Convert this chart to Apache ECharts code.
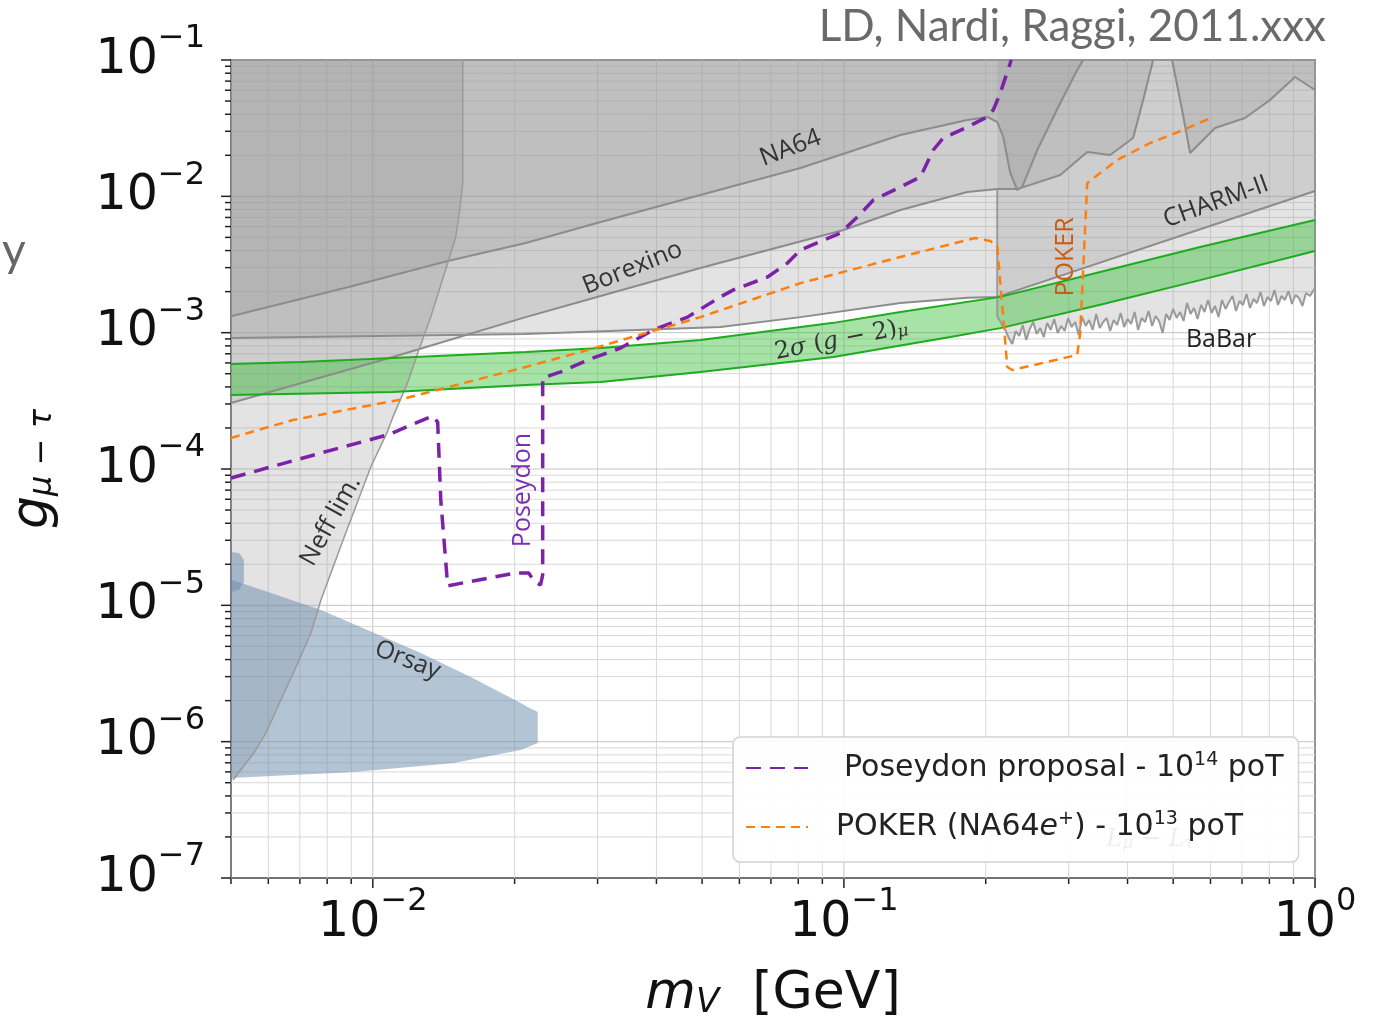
<!DOCTYPE html>
<html>
<head>
<meta charset="utf-8">
<title>g mu-tau limits</title>
<script src="https://cdn.jsdelivr.net/npm/echarts@6/dist/echarts.min.js"></script>
<style>
  html, body { margin: 0; padding: 0; background: #fff; }
  #main { width: 1388px; height: 1026px; }
</style>
</head>
<body>
<div id="main"></div>
<script>
// axis range (m_V in GeV, coupling g)
var xMin = 0.005, xMax = 1, yMin = 1e-7, yMax = 1e-1;

var xMajor = [0.01, 0.1, 1];
var xMinor = [0.005, 0.006, 0.007, 0.008, 0.009,
    0.02, 0.03, 0.04, 0.05, 0.06, 0.07, 0.08, 0.09,
    0.2, 0.3, 0.4, 0.5, 0.6, 0.7, 0.8, 0.9];
var yMajor = [1e-7, 1e-6, 1e-5, 1e-4, 1e-3, 1e-2, 1e-1];
var yMinor = [2e-7, 3e-7, 4e-7, 5e-7, 6e-7, 7e-7, 8e-7, 9e-7,
    2e-6, 3e-6, 4e-6, 5e-6, 6e-6, 7e-6, 8e-6, 9e-6,
    2e-5, 3e-5, 4e-5, 5e-5, 6e-5, 7e-5, 8e-5, 9e-5,
    2e-4, 3e-4, 4e-4, 5e-4, 6e-4, 7e-4, 8e-4, 9e-4,
    2e-3, 3e-3, 4e-3, 5e-3, 6e-3, 7e-3, 8e-3, 9e-3,
    2e-2, 3e-2, 4e-2, 5e-2, 6e-2, 7e-2, 8e-2, 9e-2];

// excluded regions (boundaries, region lies above)
var na64Bound = [
    [0.005, 0.00132], [0.00889, 0.00216], [0.01442, 0.00335], [0.02111, 0.00455],
    [0.03045, 0.00648], [0.0496, 0.01023], [0.0809, 0.01614], [0.1318, 0.02818],
    [0.1828, 0.0363], [0.2015, 0.0382], [0.2116, 0.0351], [0.2179, 0.02724],
    [0.2255, 0.01483], [0.2334, 0.01113], [0.2391, 0.01171], [0.2573, 0.02187],
    [0.2879, 0.04836], [0.3128, 0.08445], [0.3221, 0.1]
];
var borexinoBound = [
    [0.005, 0.000305], [0.01103, 0.000663], [0.02111, 0.0013], [0.03045, 0.00186],
    [0.0496, 0.00298], [0.0998, 0.00566], [0.1318, 0.00794], [0.1828, 0.01076],
    [0.2116, 0.0113], [0.2334, 0.0113], [0.2879, 0.01434], [0.3285, 0.02114],
    [0.3675, 0.0201], [0.4111, 0.02678], [0.4317, 0.05087], [0.4533, 0.1]
];
var charmBound = [
    [0.005, 0.000914], [0.02111, 0.000978], [0.0547, 0.0011], [0.0809, 0.0013],
    [0.1318, 0.00165], [0.1828, 0.0018], [0.2116, 0.00183], [1, 0.01094]
];
var babarBound = [
    [0.2116, 0.0113], [0.2116, 0.00132], [0.2179, 0.0011],
    [0.2201, 0.001046], [0.2239, 0.000914], [0.2277, 0.000826], [0.2317, 0.001028],
    [0.2356, 0.000945], [0.2397, 0.001138], [0.2438, 0.000884], [0.2480, 0.001064],
    [0.2523, 0.001197], [0.2566, 0.000978], [0.2611, 0.001082], [0.2656, 0.000929],
    [0.2701, 0.001177], [0.2748, 0.001046], [0.2795, 0.00126], [0.2843, 0.000994],
    [0.2893, 0.001119], [0.2942, 0.001028], [0.2993, 0.001281], [0.3044, 0.0011],
    [0.3097, 0.001197], [0.3150, 0.000961], [0.3205, 0.001303], [0.3260, 0.001119],
    [0.3316, 0.001238], [0.3373, 0.001046], [0.3432, 0.00137], [0.3491, 0.001082],
    [0.3551, 0.001197], [0.3612, 0.001281], [0.3674, 0.001028], [0.3738, 0.001238],
    [0.3802, 0.001138], [0.3868, 0.001394], [0.3934, 0.0011], [0.4002, 0.00126],
    [0.4071, 0.001158], [0.4141, 0.001418], [0.4213, 0.001046], [0.4285, 0.001281],
    [0.4359, 0.001197], [0.4434, 0.001442], [0.4511, 0.001119], [0.4588, 0.001325],
    [0.4667, 0.001218], [0.4748, 0.000994], [0.4830, 0.00137], [0.4913, 0.001238],
    [0.4998, 0.001492], [0.5084, 0.001281], [0.5171, 0.001418], [0.5260, 0.001218],
    [0.5351, 0.001651], [0.5443, 0.00137], [0.5537, 0.001517], [0.5633, 0.00126],
    [0.5730, 0.001596], [0.5828, 0.001418], [0.5929, 0.001736], [0.6031, 0.001394],
    [0.6135, 0.001569], [0.6241, 0.001303], [0.6348, 0.001736], [0.6458, 0.001492],
    [0.6569, 0.001679], [0.6682, 0.001857], [0.6798, 0.001442], [0.6915, 0.001707],
    [0.7034, 0.001596], [0.7155, 0.001921], [0.7279, 0.001517], [0.7404, 0.001766],
    [0.7532, 0.001651], [0.7661, 0.001988], [0.7793, 0.001569], [0.7928, 0.001826],
    [0.8064, 0.001707], [0.8203, 0.002056], [0.8345, 0.001596], [0.8488, 0.001857],
    [0.8635, 0.001736], [0.8783, 0.002021], [0.8935, 0.001623], [0.9089, 0.001889],
    [0.9246, 0.001796], [0.9404, 0.001569], [0.9570, 0.001954], [0.9759, 0.001857],
    [1, 0.002126]
];
var topRightBound = [
    [0.4974, 0.1], [0.5223, 0.04297], [0.5431, 0.02079], [0.6135, 0.03171],
    [0.7103, 0.03755], [0.8026, 0.05087], [0.9070, 0.07502], [1, 0.06025]
];
// Neff limit, region lies to the left
var neffBound = [
    [0.01552, 0.1], [0.01552, 0.01253], [0.01529, 0.00794], [0.0150, 0.00503],
    [0.01442, 0.00324], [0.01327, 0.0013], [0.01252, 0.000746], [0.01185, 0.000428],
    [0.01103, 0.00024], [0.01071, 0.000184], [0.0099, 0.0001035], [0.00876, 3.39e-5],
    [0.00776, 1.094e-5], [0.00739, 6.27e-6], [0.00687, 3.53e-6], [0.00638, 2.02e-6],
    [0.00593, 1.157e-6], [0.00559, 8.26e-7], [0.00505, 5.23e-7]
];
var orsayShape = [
    [0.005, 1.55e-5], [0.00608, 1.231e-5], [0.00776, 9.24e-6], [0.01264, 4.47e-6],
    [0.01614, 2.98e-6], [0.0206, 1.92e-6], [0.02131, 1.796e-6], [0.02239, 1.65e-6],
    [0.02239, 9.77e-7], [0.0206, 8.69e-7], [0.01485, 6.97e-7], [0.00912, 5.99e-7],
    [0.005, 5.41e-7]
];
var orsaySmall = [
    [0.005, 2.46e-5], [0.0052, 2.42e-5], [0.005326, 2.15e-5],
    [0.005326, 1.48e-5], [0.0052, 1.30e-5], [0.005, 1.25e-5]
];

// 2 sigma (g-2)_mu band
var gm2Upper = [
    [0.005, 0.000589], [0.00704, 0.000609], [0.01103, 0.000652], [0.02111, 0.000722],
    [0.03045, 0.000772], [0.0496, 0.000884], [0.095, 0.00118], [0.1318, 0.00142],
    [0.2148, 0.00183], [0.35, 0.00279], [0.5703, 0.00425], [1, 0.00671]
];
var gm2Lower = [
    [0.005, 0.000349], [0.01103, 0.000367], [0.02111, 0.000413], [0.03045, 0.000435],
    [0.0496, 0.000515], [0.095, 0.000663], [0.1682, 0.000929], [0.2148, 0.00108],
    [0.35, 0.0016], [0.5703, 0.00243], [1, 0.00397]
];

// projected sensitivities
var poseydon = [
    [0.005, 8.59e-5], [0.00776, 0.000131], [0.01076, 0.000178], [0.0134, 0.000245],
    [0.01373, 0.000221], [0.01394, 5.92e-5], [0.01442, 1.39e-5], [0.0201, 1.73e-5],
    [0.02142, 1.73e-5], [0.02206, 1.48e-5], [0.0227, 1.41e-5], [0.02294, 1.67e-5],
    [0.02294, 0.000465], [0.02505, 0.000515], [0.02858, 0.00063], [0.03357, 0.000772],
    [0.03945, 0.00105], [0.04657, 0.0013], [0.0547, 0.00183], [0.05829, 0.00206],
    [0.06884, 0.00256], [0.0759, 0.00324], [0.0809, 0.00404], [0.0983, 0.00538],
    [0.1068, 0.00705], [0.1155, 0.0094], [0.1318, 0.01171], [0.1453, 0.01386],
    [0.1548, 0.02187], [0.1625, 0.02678], [0.1828, 0.03225], [0.2015, 0.03819],
    [0.2075, 0.04297], [0.2148, 0.05728], [0.2255, 0.09506], [0.2266, 0.1]
];
var poker = [
    [0.005, 0.000169], [0.00677, 0.000229], [0.01135, 0.000321], [0.02111, 0.00056],
    [0.02858, 0.000746], [0.0496, 0.0013], [0.0809, 0.00231], [0.1318, 0.00359],
    [0.1901, 0.00495], [0.2045, 0.0047], [0.2116, 0.00432], [0.2148, 0.00231],
    [0.2179, 0.0013], [0.2222, 0.00056], [0.2277, 0.000532], [0.3128, 0.000686],
    [0.3174, 0.000995], [0.3285, 0.01253], [0.3802, 0.01847], [0.4467, 0.02461],
    [0.5249, 0.03066], [0.6077, 0.03819]
];

var legendNames = ['Poseydon proposal', 'POKER'];

var annotations = [
    { text: 'NA64', at: [0.077, 0.0226], rot: 21, color: '#333' },
    { text: 'Borexino', at: [0.0356, 0.00298], rot: 22, color: '#333' },
    { text: 'CHARM-II', at: [0.6166, 0.00909], rot: 20, color: '#333' },
    { text: 'BaBar', at: [0.6318, 0.000884], rot: 0, color: '#222' },
    { text: 'Orsay', at: [0.01185, 3.97e-6], rot: -21, color: '#333' },
    { text: 'Neff lim.', at: [0.00814, 4.16e-5], rot: 61, color: '#333' },
    { text: 'POKER', at: [0.2963, 0.00359], rot: 90, color: '#cc5b12' },
    { text: 'Poseydon', at: [0.0208, 7.01e-5], rot: 90, color: '#7b30b2' },
    { text: '2{i|σ} ({i|g} − 2){s|μ}', at: [0.0988, 0.000884], rot: 11, color: '#333', math: true },
    { text: '{i|L}{s|μ}{i| − L}{s|τ}', at: [0.4467, 1.9e-7], rot: 0, color: 'rgba(0,0,0,0.07)', math: true }
];

function above(curve) {
    return curve.concat([[curve[curve.length - 1][0], yMax], [curve[0][0], yMax]]);
}

function polygonSeries(pts, fill, z) {
    return {
        type: 'custom', silent: true, clip: true, z: z,
        data: pts,
        renderItem: function (params, api) {
            if (params.dataIndex !== 0) return null;
            var poly = [];
            for (var i = 0; i < pts.length; i++) poly.push(api.coord(pts[i]));
            return { type: 'polygon', shape: { points: poly }, style: { fill: fill } };
        }
    };
}

function boundLine(pts, color, width, z) {
    return {
        type: 'line', data: pts, symbol: 'none', silent: true, z: z,
        lineStyle: { color: color, width: width }
    };
}

function gridSeries(vals, dir) {
    return {
        type: 'custom', silent: true, clip: false, z: 1,
        data: vals.map(function (v) { return dir === 'x' ? [v, yMin] : [xMin, v]; }),
        renderItem: function (params, api) {
            var v = vals[params.dataIndex];
            var major = (dir === 'x' ? xMajor : yMajor).indexOf(v) >= 0;
            var a, b, t;
            if (dir === 'x') {
                a = api.coord([v, yMin]); b = api.coord([v, yMax]);
                t = [a[0], a[1] + (major ? 10 : 6)];
            } else {
                a = api.coord([xMin, v]); b = api.coord([xMax, v]);
                t = [a[0] - (major ? 10 : 6), a[1]];
            }
            return {
                type: 'group', children: [
                    { type: 'line', shape: { x1: a[0], y1: a[1], x2: b[0], y2: b[1] },
                      style: { stroke: major ? '#c4c4c4' : '#d8d8d8', lineWidth: 1 } },
                    { type: 'line', shape: { x1: a[0], y1: a[1], x2: t[0], y2: t[1] },
                      style: { stroke: '#222', lineWidth: 1.5 } }
                ]
            };
        }
    };
}

function powLabel(v) {
    var e = Math.round(Math.log10(v));
    if (Math.abs(v / Math.pow(10, e) - 1) > 1e-6) return '';
    return '{b|10}{s|' + (e < 0 ? '−' : '') + Math.abs(e) + '}';
}

var tickRich = {
    b: { fontSize: 49, fontFamily: 'DejaVu Sans', color: '#111', lineHeight: 74 },
    s: { fontSize: 32, fontFamily: 'DejaVu Sans', color: '#111', lineHeight: 32, verticalAlign: 'top' }
};

var mathRich = {
    i: { fontFamily: 'DejaVu Serif', fontStyle: 'italic', fontSize: 24 },
    s: { fontFamily: 'DejaVu Serif', fontStyle: 'italic', fontSize: 17, verticalAlign: 'bottom', lineHeight: 22 }
};

var grayFill = 'rgba(150,150,150,0.27)';
var grayLine = '#8c8c8c';

var chart = echarts.init(document.getElementById('main'));

var series = [
    gridSeries(xMajor.concat(xMinor), 'x'),
    gridSeries(yMajor.concat(yMinor), 'y'),
    polygonSeries(above(charmBound), grayFill, 2),
    polygonSeries(above(borexinoBound), grayFill, 2),
    polygonSeries(above(na64Bound), grayFill, 2),
    polygonSeries(above(babarBound), grayFill, 2),
    polygonSeries(above(topRightBound), grayFill, 2),
    polygonSeries(neffBound.concat([[xMin, 5.23e-7], [xMin, yMax]]), grayFill, 2),
    polygonSeries(orsayShape, 'rgba(104,140,172,0.5)', 3),
    polygonSeries(orsaySmall, 'rgba(104,140,172,0.5)', 3),
    polygonSeries(gm2Upper.concat(gm2Lower.slice().reverse()), 'rgba(60,190,60,0.45)', 4),
    boundLine(na64Bound, grayLine, 2, 5),
    boundLine(borexinoBound, grayLine, 2, 5),
    boundLine(charmBound, grayLine, 2, 5),
    boundLine(babarBound, '#9a9a9a', 2, 5),
    boundLine(topRightBound, grayLine, 2, 5),
    boundLine(neffBound, '#9a9a9a', 1.5, 5),
    boundLine(gm2Upper, '#1faa1f', 2, 6),
    boundLine(gm2Lower, '#1faa1f', 2, 6),
    {
        name: legendNames[0], type: 'line', data: poseydon, symbol: 'none', z: 7,
        lineStyle: { color: '#7b22a8', width: 3.5, type: [15, 9] },
        itemStyle: { color: '#7b22a8' }
    },
    {
        name: legendNames[1], type: 'line', data: poker, symbol: 'none', z: 7,
        lineStyle: { color: '#ff7f0e', width: 2.5, type: [9, 6] },
        itemStyle: { color: '#ff7f0e' }
    },
    {
        type: 'custom', silent: true, clip: false, z: 30,
        data: annotations.map(function (a) { return a.at; }),
        renderItem: function (params, api) {
            var a = annotations[params.dataIndex];
            var p = api.coord(a.at);
            return {
                type: 'text', x: p[0], y: p[1], rotation: a.rot * Math.PI / 180,
                style: {
                    text: a.text, fill: a.color, align: 'center', verticalAlign: 'middle',
                    fontSize: a.math ? 24 : 25,
                    fontFamily: a.math ? 'DejaVu Serif' : 'Open Sans',
                    rich: a.math ? mathRich : undefined
                }
            };
        }
    }
];

var option = {
    animation: false,
    backgroundColor: '#fff',
    grid: {
        left: 231, right: 73, top: 60, bottom: 148,
        containLabel: false, outerBoundsMode: 'none',
        show: true, borderColor: '#333', borderWidth: 1.5, backgroundColor: '#fff'
    },
    xAxis: {
        type: 'log', logBase: 10, min: xMin, max: xMax,
        splitLine: { show: false }, axisTick: { show: false },
        axisLine: { lineStyle: { color: '#111', width: 1.5 } },
        axisLabel: { formatter: powLabel, rich: tickRich, margin: 8 },
        name: '{m|m}{v|V}{g|  [GeV]}',
        nameLocation: 'middle', nameGap: 90,
        nameTextStyle: {
            rich: {
                m: { fontFamily: 'DejaVu Sans', fontStyle: 'italic', fontSize: 52, color: '#111' },
                v: { fontFamily: 'DejaVu Sans', fontStyle: 'italic', fontSize: 34, color: '#111', verticalAlign: 'bottom', lineHeight: 40 },
                g: { fontFamily: 'DejaVu Sans', fontSize: 52, color: '#111' }
            }
        }
    },
    yAxis: {
        type: 'log', logBase: 10, min: yMin, max: yMax,
        splitLine: { show: false }, axisTick: { show: false },
        axisLine: { lineStyle: { color: '#111', width: 1.5 } },
        axisLabel: { formatter: powLabel, rich: tickRich, margin: 26 },
        name: '{g|g}{s|μ − τ}',
        nameLocation: 'middle', nameGap: 172, nameRotate: 90,
        nameTextStyle: {
            rich: {
                g: { fontFamily: 'DejaVu Sans', fontStyle: 'italic', fontSize: 52, color: '#111' },
                s: { fontFamily: 'DejaVu Sans', fontStyle: 'italic', fontSize: 32, color: '#111', verticalAlign: 'bottom', lineHeight: 44 }
            }
        }
    },
    legend: {
        data: [
            { name: legendNames[0], textStyle: { padding: [0, 0, 0, 31] } },
            { name: legendNames[1], textStyle: { padding: [0, 0, 0, 23] } }
        ],
        orient: 'vertical', left: 733, top: 737, z: 20,
        selectedMode: false,
        itemWidth: 62, itemHeight: 14, itemGap: 25,
        itemStyle: { opacity: 0 },
        padding: [14, 15, 18, 12],
        backgroundColor: 'rgba(255,255,255,0.9)',
        borderColor: '#d2d2d2', borderWidth: 1.5, borderRadius: 7,
        textStyle: {
            fontSize: 30, fontFamily: 'DejaVu Sans', color: '#222', lineHeight: 34,
            rich: {
                sup: { fontSize: 19, fontFamily: 'DejaVu Sans', color: '#222', verticalAlign: 'top', lineHeight: 16 },
                it: { fontSize: 30, fontFamily: 'DejaVu Sans', fontStyle: 'italic', color: '#222' }
            }
        },
        formatter: function (name) {
            if (name === legendNames[0]) return 'Poseydon proposal - 10{sup|14} poT';
            return 'POKER (NA64{it|e}{sup|+}) - 10{sup|13} poT';
        }
    },
    graphic: [
        {
            type: 'text', right: 62, top: 5,
            style: { text: 'LD, Nardi, Raggi, 2011.xxx', fontFamily: 'Lato', fontSize: 44, fill: '#6a6a6a' }
        },
        {
            type: 'text', left: 2, top: 228,
            style: { text: 'y', fontFamily: 'Lato', fontSize: 46, fill: '#666' }
        }
    ],
    series: series
};

chart.setOption(option);
</script>
</body>
</html>
